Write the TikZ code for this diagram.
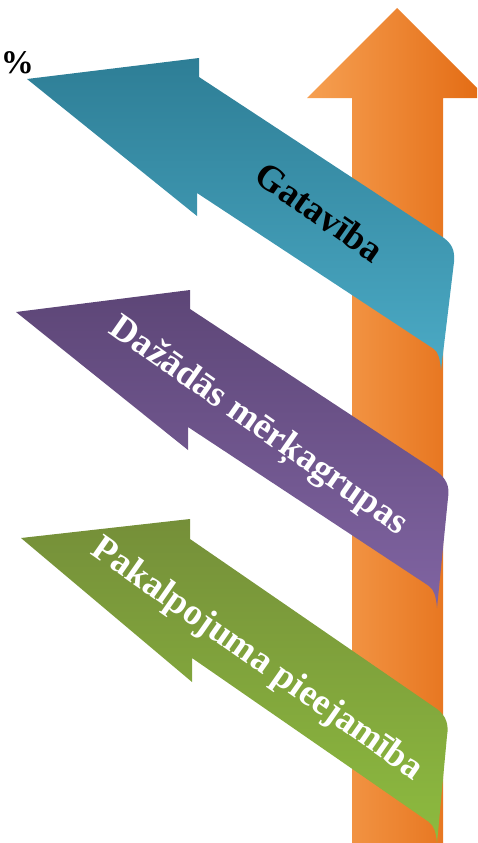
\documentclass[tikz,border=0pt]{standalone}
\usepackage{fontspec}
\setmainfont{Liberation Serif}
\definecolor{tealdark}{HTML}{2E7E96}
\definecolor{teallight}{HTML}{4BAAC5}
\definecolor{purpledark}{HTML}{5D4677}
\definecolor{purplelight}{HTML}{8064A2}
\definecolor{greendark}{HTML}{758F39}
\definecolor{greenlight}{HTML}{8DBB3F}
\definecolor{orangelight}{HTML}{F6A052}
\definecolor{orangedark}{HTML}{E36A12}

\tikzstyle{up arrow}=[left color=orangelight,right color=orangedark]
\tikzstyle{side arrow}=[shading angle=60]
\tikzstyle{arrow label}=[inner sep=0pt,rotate=-35,
    font=\fontsize{37}{42}\selectfont\bfseries]
\newcommand{\sidelabel}[4][]{
    \node[arrow label,#1] at (#2) (#3) {#4};
}

\begin{document}
\begin{tikzpicture}[x=1pt,y=-1pt]
    \useasboundingbox (0,0) rectangle (477,843);
    \clip (0,0) rectangle (477,843);

    % rising arrow
    \shade[up arrow] (397,8) -- (487,98) -- (443,98) -- (443,844)
        -- (352,844) -- (352,98) -- (307,98) -- cycle;

    % side arrows
    \shade[side arrow,top color=tealdark,bottom color=teallight]
        (27,79) -- (199,58) -- (199,77) -- (441,236)
        .. controls (452,243) and (455,250) .. (454,262) -- (441,370)
        .. controls (440,358) and (438,352) .. (434,349)
        -- (197,193) -- (197,216) -- cycle;
    \shade[side arrow,top color=purpledark,bottom color=purplelight]
        (16,312) -- (190,290) -- (190,309) -- (436,471)
        .. controls (446,478) and (450,486) .. (448,498) -- (437,608)
        .. controls (436,596) and (434,590) .. (429,586)
        -- (188,427) -- (188,450) -- cycle;
    \shade[side arrow,top color=greendark,bottom color=greenlight]
        (21,538) -- (190,519) -- (190,539) -- (437,709)
        .. controls (446,716) and (449,724) .. (447,736) -- (437,843)
        .. controls (436,832) and (434,826) .. (429,822)
        -- (192,658) -- (192,682) -- cycle;

    \sidelabel{320,212}{gat}{Gatavība}
    \sidelabel[white]{258,427}{dazadas}{Dažādās mērķagrupas}
    \sidelabel[white]{257,660}{pakalp}{Pakalpojuma pieejamība}
    \node[arrow label,rotate=35,font=\fontsize{33}{38}\selectfont\bfseries,
        anchor=base east] at (34,74) (pct) {\%};
\end{tikzpicture}
\end{document}
